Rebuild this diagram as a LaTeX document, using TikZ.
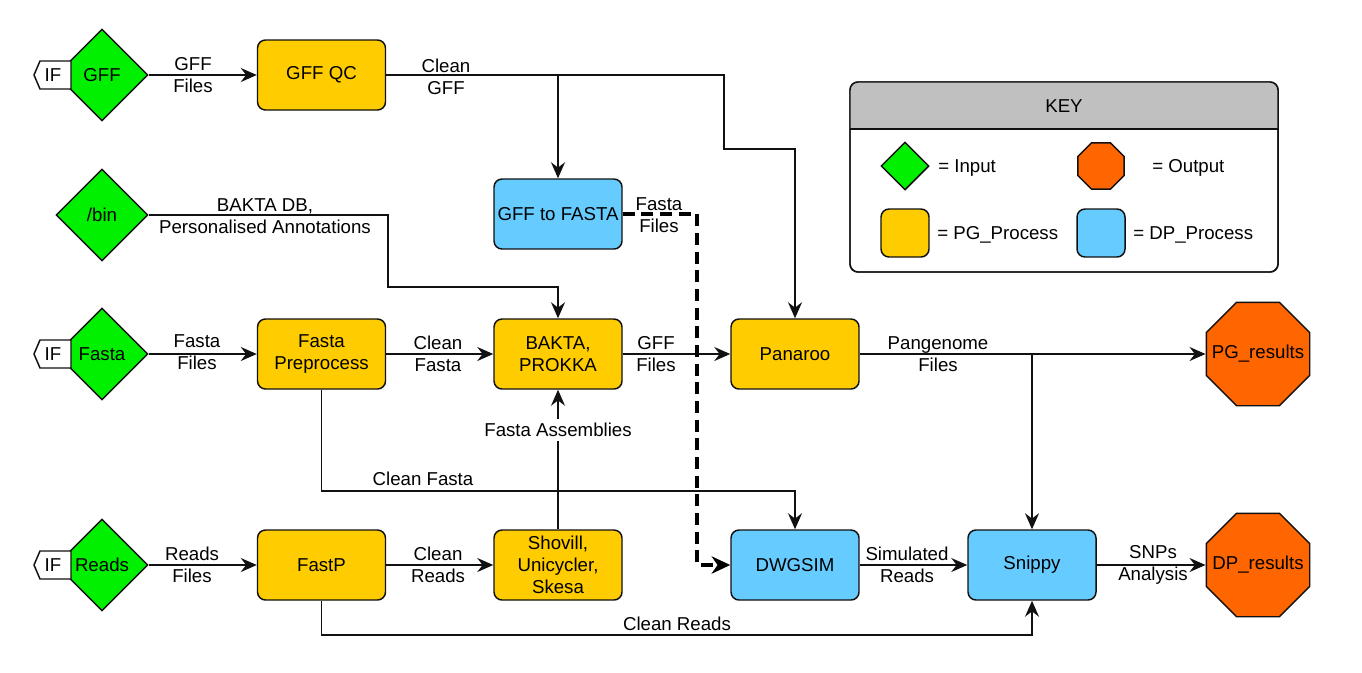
\documentclass[tikz,border=0pt]{standalone}
\usepackage{fontspec}
\setmainfont{Liberation Sans}
\usetikzlibrary{arrows.meta,shapes.geometric}
\definecolor{ingreen}{HTML}{00F000}
\definecolor{pgyellow}{HTML}{FFCC00}
\definecolor{dpblue}{HTML}{66CCFF}
\definecolor{outorange}{HTML}{FF6600}
\definecolor{keygray}{HTML}{C0C0C0}
\definecolor{edgeblk}{HTML}{111111}
\begin{document}
\begin{tikzpicture}[x=0.75pt,y=-0.75pt,
  font=\fontsize{14pt}{16.5pt}\selectfont,
  pg/.style={draw=edgeblk, line width=1.1pt, fill=pgyellow, rounded corners=6pt,
    minimum width=96pt, minimum height=52.5pt, align=center, inner sep=2pt},
  dp/.style={pg, fill=dpblue},
  inp/.style={diamond, draw=edgeblk, fill=ingreen, line width=1.1pt,
    minimum width=69pt, minimum height=69pt, inner sep=0pt},
  outp/.style={regular polygon, regular polygon sides=8, draw=edgeblk, fill=outorange,
    line width=1.1pt, minimum size=84pt, inner sep=0pt},
  tagst/.style={draw=edgeblk, fill=white, line width=1.1pt},
  conn/.style={line width=1.25pt, draw=edgeblk},
  arr/.style={conn, -{Stealth[length=12pt,width=10.5pt,inset=4pt]}},
  dasharr/.style={line width=2.6pt, draw=black, dash pattern=on 9pt off 5pt,
    -{Stealth[length=14pt,width=13pt,inset=4.5pt]}},
  lbl/.style={align=center, inner sep=0pt},
  keytxt/.style={anchor=west, inner sep=0pt}
]
\useasboundingbox (0,0) rectangle (1362,672);

% ---------- Inputs ----------
\node[inp] (dgff) at (102,75) {GFF};
\node[inp] (dbin) at (102,215) {/bin};
\node[inp] (dfasta) at (102,354) {Fasta};
\node[inp] (dreads) at (102,565) {Reads};

% IF tags
\draw[tagst] (34,75) -- (40,61) -- (71,61) -- (71,89) -- (40,89) -- cycle;
\node[inner sep=0pt] (ifgff) at (53,75) {IF};
\draw[tagst] (34,354) -- (40,340) -- (71,340) -- (71,368) -- (40,368) -- cycle;
\node[inner sep=0pt] (iffasta) at (53,354) {IF};
\draw[tagst] (34,565) -- (40,551) -- (71,551) -- (71,579) -- (40,579) -- cycle;
\node[inner sep=0pt] (ifreads) at (53,565) {IF};

% ---------- Processes ----------
\node[pg] (gffqc) at (321.5,75) {GFF QC};
\node[dp] (g2f) at (558,214) {GFF to FASTA};
\node[pg] (fpre) at (321.5,354) {Fasta\\Preprocess};
\node[pg] (bakta) at (558,354) {BAKTA,\\PROKKA};
\node[pg] (panaroo) at (795,354) {Panaroo};
\node[pg] (fastp) at (321.5,565) {FastP};
\node[pg] (shovill) at (558,565) {Shovill,\\Unicycler,\\Skesa};
\node[dp] (dwgsim) at (795,565) {DWGSIM};
\node[dp] (snippy) at (1032,565) {Snippy};

% ---------- Outputs ----------
\node[outp, label={[inner sep=0pt]center:PG\_results}] (pgres) at (1258,354) {};
\node[outp, label={[inner sep=0pt]center:DP\_results}] (dpres) at (1258,565) {};

% ---------- Connectors ----------
\draw[arr] (dgff.east) -- (gffqc.west);
\node[lbl] (lgff) at (193,75) {GFF\\Files};

\coordinate (qa) at (724,75);
\coordinate (qb) at (724,149);
\draw[arr] (gffqc.east) -| (g2f.north);
\draw[arr] (gffqc.east) -- (qa) -- (qb) -| (panaroo.north);
\node[lbl] (lcgff) at (446,77) {Clean\\GFF};

\coordinate (ba) at (388,215);
\coordinate (bb) at (388,287);
\draw[arr] (dbin.east) -- (ba) -- (bb) -| (bakta.north);
\node[lbl] (lbakdb) at (265,216) {BAKTA DB,\\Personalised Annotations};

\draw[arr] (dfasta.east) -- (fpre.west);
\node[lbl] (lfasta) at (197,352) {Fasta\\Files};

\draw[arr] (fpre.east) -- (bakta.west);
\node[lbl] (lcfasta) at (438,354) {Clean\\Fasta};

\draw[arr] (bakta.east) -- (panaroo.west);
\node[lbl] (lgfffiles) at (656,354) {GFF\\Files};

\draw[arr] (panaroo.east) -- (pgres.west);
\node[lbl] (lpan) at (938,354) {Pangenome\\Files};
\coordinate (pj) at (1032,354);
\draw[arr] (pj) -- (snippy.north);

\coordinate (fa) at (321.5,491);
\draw[arr] (fpre.south) -- (fa) -| (dwgsim.north);
\node[lbl] (lcfasta2) at (423,479) {Clean Fasta};

\draw[arr] (dreads.east) -- (fastp.west);
\node[lbl] (lreads) at (192,565) {Reads\\Files};

\draw[arr] (fastp.east) -- (shovill.west);
\node[lbl] (lcreads) at (438,565) {Clean\\Reads};

\draw[arr] (shovill.north) -- (bakta.south);
\node[lbl, fill=white, inner ysep=3pt, inner xsep=1pt] (lasm) at (558,430) {Fasta Assemblies};

\coordinate (ra) at (321.5,635);
\draw[arr] (fastp.south) -- (ra) -| (snippy.south);
\node[lbl] (lcreads2) at (677,624) {Clean Reads};

\coordinate (da) at (697,214);
\coordinate (db) at (697,565);
\draw[dasharr] (g2f.east) -- (da) -- (db) -- (dwgsim.west);
\node[lbl] (lff) at (659,215) {Fasta\\Files};

\draw[arr] (dwgsim.east) -- (snippy.west);
\node[lbl] (lsim) at (907,565) {Simulated\\Reads};

\draw[arr] (snippy.east) -- (dpres.west);
\node[lbl] (lsnp) at (1153,565) {SNPs\\Analysis};

% ---------- Key ----------
\draw[draw=edgeblk, line width=1.1pt, fill=white, rounded corners=6pt] (850,82) rectangle (1278,272);
\fill[keygray, rounded corners=6pt] (850,82) rectangle (1278,129);
\fill[keygray] (850,110) rectangle (1278,129);
\draw[draw=edgeblk, line width=1.1pt, rounded corners=6pt] (850,82) rectangle (1278,272);
\draw[draw=edgeblk, line width=1.1pt] (850,129) -- (1278,129);
\node[inner sep=0pt] (keyhdr) at (1064,106) {KEY};

\node[inp, minimum width=36pt, minimum height=36pt] (kin) at (905,166) {};
\node[keytxt] (kintxt) at (938,168) {= Input};
\node[outp, minimum size=37.5pt] (kout) at (1101,166) {};
\node[keytxt] (kouttxt) at (1152,168) {= Output};
\node[pg, minimum width=36pt, minimum height=36pt] (kpg) at (905,233) {};
\node[keytxt] (kpgtxt) at (937,235) {= PG\_Process};
\node[dp, minimum width=36pt, minimum height=36pt] (kdp) at (1101,233) {};
\node[keytxt] (kdptxt) at (1133,235) {= DP\_Process};
\end{tikzpicture}
\end{document}
